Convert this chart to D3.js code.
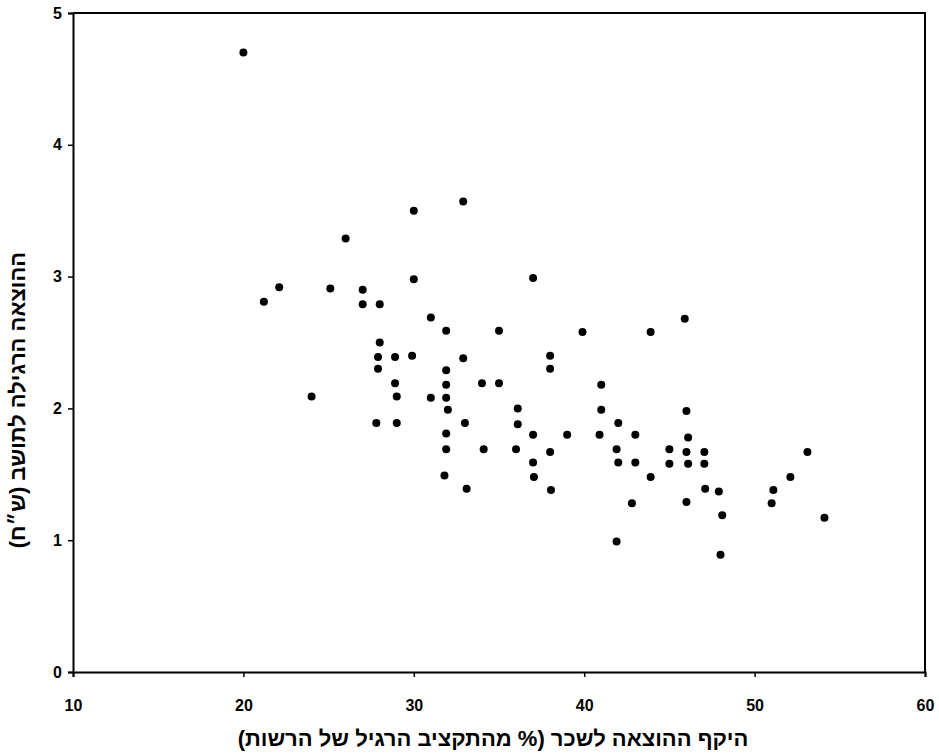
<!DOCTYPE html>
<html>
<head>
<meta charset="utf-8">
<script src="https://cdn.jsdelivr.net/npm/d3@7"></script>
<style>
  html, body { margin: 0; padding: 0; background: #fff; }
  svg { display: block; }
  text { font-family: "Liberation Sans", Arial, sans-serif; font-weight: bold; fill: #000; }
</style>
</head>
<body>
<script>
// Wage spending share (% of regular budget) per municipality
const xValues = [20.0, 21.2, 22.1, 24.0, 25.1, 26.0, 27.0, 27.0, 28.0, 28.0,
  27.9, 28.9, 29.9, 27.9, 30.0, 30.0, 31.0, 31.9, 32.9, 32.9,
  31.9, 28.9, 29.0, 31.0, 27.8, 29.0, 31.9, 31.9, 32.0, 33.0,
  31.9, 31.9, 31.8, 33.1, 37.0, 35.0, 39.9, 38.0, 38.0, 34.0,
  35.0, 36.1, 36.1, 37.0, 39.0, 41.0, 41.0, 40.9, 42.0, 34.1,
  36.0, 38.0, 37.0, 37.05, 38.05, 41.9, 42.0, 43.0, 46.0, 46.1,
  45.0, 46.0, 47.05, 53.1, 43.0, 45.0, 46.1, 47.05, 43.9, 52.1,
  47.1, 47.9, 51.1, 51.0, 42.8, 46.0, 48.1, 54.1, 41.9, 48.0,
  43.9, 45.9];
// Regular spending per resident (NIS thousands)
const yValues = [4.70, 2.81, 2.92, 2.09, 2.91, 3.29, 2.90, 2.79, 2.79, 2.50,
  2.39, 2.39, 2.40, 2.30, 3.50, 2.98, 2.69, 2.59, 3.57, 2.38,
  2.29, 2.19, 2.09, 2.08, 1.89, 1.89, 2.18, 2.08, 1.99, 1.89,
  1.81, 1.69, 1.49, 1.39, 2.99, 2.59, 2.58, 2.40, 2.30, 2.19,
  2.19, 2.00, 1.88, 1.80, 1.80, 2.18, 1.99, 1.80, 1.89, 1.69,
  1.69, 1.67, 1.59, 1.48, 1.38, 1.69, 1.59, 1.80, 1.98, 1.78,
  1.69, 1.67, 1.67, 1.67, 1.59, 1.58, 1.58, 1.58, 1.48, 1.48,
  1.39, 1.37, 1.38, 1.28, 1.28, 1.29, 1.19, 1.17, 0.99, 0.89,
  2.58, 2.68];
const xTicks = [10, 20, 30, 40, 50, 60];
const yTicks = [0, 1, 2, 3, 4, 5];
const xTitle = "היקף ההוצאה לשכר (% מהתקציב הרגיל של הרשות)";
const yTitle = "ההוצאה הרגילה לתושב (ש״ח)";

const W = 939, H = 754;
const mLeft = 73, mRight = 925, mTop = 13, mBottom = 672;

const svg = d3.select("body").append("svg").attr("width", W).attr("height", H);

const x = d3.scaleLinear().domain([10, 60]).range([mLeft, mRight]);
const y = d3.scaleLinear().domain([0, 5]).range([mBottom, mTop]);

// frame (top and right)
svg.append("path")
  .attr("d", `M${x(10)},${y(5)}H${x(60)}V${y(0)}`)
  .attr("fill", "none").attr("stroke", "#000").attr("stroke-width", 2);

// x axis
const gx = svg.append("g").attr("transform", `translate(0,${mBottom})`)
  .call(d3.axisBottom(x).tickValues(xTicks).tickSize(5).tickPadding(23).tickFormat(d3.format("d")));
gx.select(".domain").attr("stroke", "#000").attr("stroke-width", 2);
gx.selectAll(".tick line").attr("stroke", "#000").attr("stroke-width", 1.5);
gx.selectAll(".tick text").attr("font-size", 16).attr("font-family", "Liberation Sans, Arial, sans-serif").attr("font-weight", "bold");

// y axis
const gy = svg.append("g").attr("transform", `translate(${mLeft},0)`)
  .call(d3.axisLeft(y).tickValues(yTicks).tickSize(5).tickPadding(6).tickFormat(d3.format("d")));
gy.select(".domain").attr("stroke", "#000").attr("stroke-width", 2);
gy.selectAll(".tick line").attr("stroke", "#000").attr("stroke-width", 1.5);
gy.selectAll(".tick text").attr("font-size", 16).attr("font-family", "Liberation Sans, Arial, sans-serif").attr("font-weight", "bold");

// points
svg.append("g").selectAll("circle")
  .data(d3.range(xValues.length))
  .join("circle")
  .attr("cx", i => x(xValues[i]))
  .attr("cy", i => y(yValues[i]))
  .attr("r", 4)
  .attr("fill", "#000");

// titles
svg.append("text")
  .attr("x", 493).attr("y", 746)
  .attr("text-anchor", "middle")
  .attr("direction", "rtl")
  .attr("font-size", 22)
  .text(xTitle);

svg.append("text")
  .attr("transform", `translate(25,400) rotate(-90)`)
  .attr("text-anchor", "middle")
  .attr("direction", "rtl")
  .attr("font-size", 22)
  .text(yTitle);
</script>
</body>
</html>
